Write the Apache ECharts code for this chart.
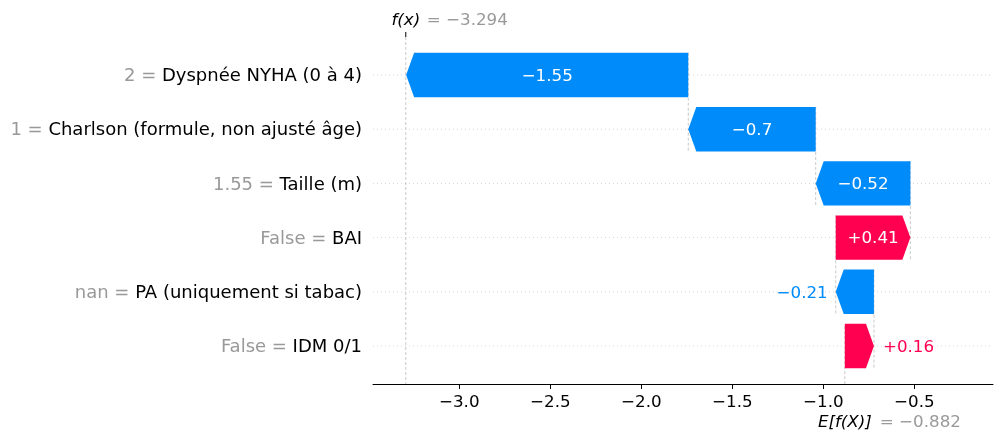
<!DOCTYPE html>
<html>
<head>
<meta charset="utf-8">
<script src="https://cdn.jsdelivr.net/npm/echarts@6/dist/echarts.min.js"></script>
<style>
  html, body { margin: 0; padding: 0; background: #fff; }
  #chart { width: 1002px; height: 439px; }
</style>
</head>
<body>
<div id="chart"></div>
<script>
// features, top row first
const featureNames = ['Dyspnée NYHA (0 à 4)', 'Charlson (formule, non ajusté âge)', 'Taille (m)', 'BAI', 'PA (uniquement si tabac)', 'IDM 0/1'];
const featureValues = ['2', '1', '1.55', 'False', 'nan', 'False'];
const shapValues = [-1.55, -0.7, -0.52, 0.41, -0.21, 0.16];
const baseValue = -0.882;   // E[f(X)]
const fxValue = -3.294;     // f(x)
const xTicks = [-3.0, -2.5, -2.0, -1.5, -1.0, -0.5];

const BLUE = '#008bfb', RED = '#ff0051', GREY = '#999999';
const FONT = 'DejaVu Sans';
const BAR_H = 0.82;   // bar thickness in row units
const HEAD_PX = 8;    // arrow head length
const TXT_DY = 1.5;   // nudge so text sits like matplotlib's
const nRows = shapValues.length;

// waterfall: bottom row starts at the base value
const rows = [];
let acc = baseValue;
for (let i = nRows - 1; i >= 0; i--) {
    rows[i] = [i, acc, acc + shapValues[i], shapValues[i]];
    acc += shapValues[i];
}

function fmtShap(v) {
    let s = Math.abs(v).toFixed(2).replace(/0+$/, '').replace(/\.$/, '');
    return (v < 0 ? '\u2212' : '+') + s;
}
function fmtNum(v, d) {
    return (v < 0 ? '\u2212' : '') + Math.abs(v).toFixed(d);
}

// grid lines, connectors and row labels
function renderGuide(params, api) {
    const cs = params.coordSys;
    const r = api.value(0), s = api.value(1);
    const p = api.coord([s, r]);
    const children = [{
        type: 'line',
        shape: { x1: cs.x, y1: p[1], x2: cs.x + cs.width, y2: p[1] },
        style: { stroke: '#cccccc', lineWidth: 0.8, lineDash: [1, 3] }
    }];
    if (r < nRows - 1) {
        const ya = api.coord([s, r - BAR_H / 2])[1];
        const yb = api.coord([s, r + 1 + BAR_H / 2])[1];
        children.push({
            type: 'line',
            shape: { x1: p[0], y1: ya, x2: p[0], y2: yb },
            style: { stroke: '#bbbbbb', lineWidth: 0.8, lineDash: [3, 2] }
        });
    }
    children.push({
        type: 'text',
        style: {
            text: '{v|' + featureValues[r] + ' = }{n|' + featureNames[r] + '}',
            x: cs.x - 11, y: p[1] + TXT_DY,
            align: 'right', verticalAlign: 'middle',
            rich: {
                v: { fill: GREY, fontSize: 18, fontFamily: FONT },
                n: { fill: '#000', fontSize: 18, fontFamily: FONT }
            }
        }
    });
    return { type: 'group', children: children };
}

// arrow bars
function renderBar(params, api) {
    const r = api.value(0), s = api.value(1), e = api.value(2), v = api.value(3);
    const a = api.coord([s, r]), b = api.coord([e, r]);
    const half = Math.abs(api.coord([s, r + BAR_H / 2])[1] - a[1]);
    const ym = a[1], y0 = ym - half, y1 = ym + half;
    const len = Math.abs(b[0] - a[0]);
    const dir = b[0] > a[0] ? 1 : -1;
    const xb = b[0] - dir * Math.min(HEAD_PX, len);
    const color = v < 0 ? BLUE : RED;
    const inside = len > 60;
    return {
        type: 'group',
        children: [{
            type: 'polygon',
            shape: { points: [[a[0], y0], [xb, y0], [b[0], ym], [xb, y1], [a[0], y1]] },
            style: { fill: color }
        }, {
            type: 'text',
            style: {
                text: fmtShap(v),
                x: inside ? (a[0] + b[0]) / 2 : b[0] + dir * (v < 0 ? 8 : 9),
                y: ym + TXT_DY,
                align: inside ? 'center' : (dir > 0 ? 'left' : 'right'),
                verticalAlign: 'middle',
                fill: inside ? '#fff' : color,
                fontSize: 16.7, fontFamily: FONT
            }
        }]
    };
}

// f(x) and E[f(X)] markers
function renderMarks(params, api) {
    const cs = params.coordSys;
    const xf = api.coord([api.value(0), 0])[0];
    const xe = api.coord([api.value(1), 0])[0];
    const top = cs.y, bottom = cs.y + cs.height;
    const dash = { stroke: '#bbbbbb', lineWidth: 0.8, lineDash: [3, 2] };
    const yTop = top - 18 + TXT_DY, yBot = bottom + 37 + TXT_DY;
    return {
        type: 'group',
        children: [
            { type: 'line', shape: { x1: xf, y1: top, x2: xf, y2: bottom }, style: dash },
            { type: 'line', shape: { x1: xe, y1: bottom - cs.height / nRows, x2: xe, y2: bottom }, style: dash },
            { type: 'line', shape: { x1: xf, y1: top - 5, x2: xf, y2: top }, style: { stroke: '#000', lineWidth: 1 } },
            { type: 'text', style: { text: 'f(x)', x: xf, y: yTop, align: 'center', verticalAlign: 'middle',
                fill: '#000', fontSize: 16.7, fontStyle: 'italic', fontFamily: FONT } },
            { type: 'text', style: { text: '= \u2212' + Math.abs(api.value(0)).toFixed(3), x: xf + 21, y: yTop,
                align: 'left', verticalAlign: 'middle', fill: GREY, fontSize: 16.7, fontFamily: FONT } },
            { type: 'text', style: { text: 'E[f(X)]', x: xe, y: yBot, align: 'center', verticalAlign: 'middle',
                fill: '#000', fontSize: 16.7, fontStyle: 'italic', fontFamily: FONT } },
            { type: 'text', style: { text: '= \u2212' + Math.abs(api.value(1)).toFixed(3), x: xe + 35, y: yBot,
                align: 'left', verticalAlign: 'middle', fill: GREY, fontSize: 16.7, fontFamily: FONT } }
        ]
    };
}

const chart = echarts.init(document.getElementById('chart'));
chart.setOption({
    animation: false,
    grid: { left: 373, right: 9, top: 37, bottom: 55 },
    xAxis: {
        type: 'value',
        min: -3.474, max: -0.068,
        splitLine: { show: false },
        axisLine: { onZero: false, lineStyle: { color: '#000', width: 1 } },
        axisTick: { customValues: xTicks, length: 5, lineStyle: { color: '#000', width: 1 } },
        axisLabel: {
            customValues: xTicks, margin: 10, color: '#000', fontSize: 16.7, fontFamily: FONT,
            formatter: v => fmtNum(v, 1)
        }
    },
    yAxis: {
        type: 'value', inverse: true, min: -0.7, max: nRows - 0.3, show: false
    },
    series: [{
        type: 'custom', z: 1, clip: false,
        renderItem: renderGuide,
        encode: { x: [1, 2], y: 0 },
        data: rows
    }, {
        type: 'custom', z: 2, clip: false,
        renderItem: renderMarks,
        encode: { x: [0, 1] },
        data: [[fxValue, baseValue]]
    }, {
        type: 'custom', z: 3, clip: false,
        renderItem: renderBar,
        encode: { x: [1, 2], y: 0 },
        data: rows
    }]
});
</script>
</body>
</html>
